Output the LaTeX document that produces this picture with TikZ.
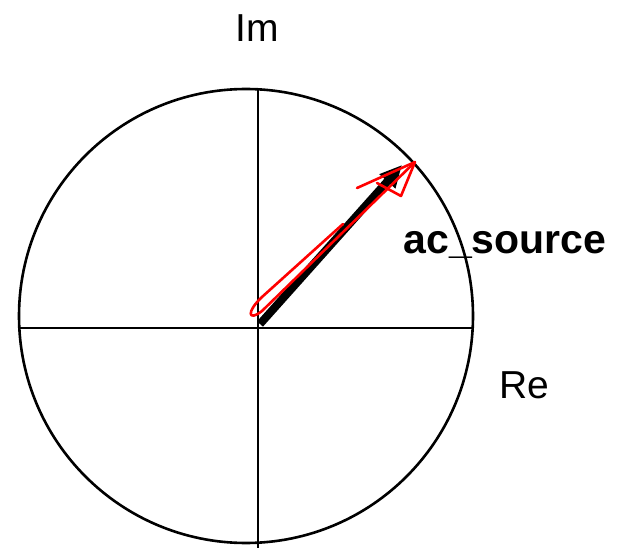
\documentclass[tikz,border=0pt]{standalone}
\usepackage{fontspec}
\setmainfont{Liberation Sans}
\usetikzlibrary{arrows.meta,positioning}

\begin{document}
\begin{tikzpicture}[
        x=1pt, y=-1pt,
        axis/.style={draw, line width=2.6pt},
        label/.style={font=\fontsize{39}{39}\selectfont, inner sep=0pt},
        phasor/.style={draw, line width=8pt, -{Triangle[length=22pt,width=20pt]}},
        sketch/.style={draw, red, line width=2.6pt, line join=round, line cap=round}
    ]
    \useasboundingbox (0,0) rectangle (619,548);
    \coordinate (origin) at (258,328);
    \coordinate (tip) at (402,165);
    % unit circle and axes
    \draw [axis] (246,316) circle (227);
    \draw [axis] (19,328) -- (472,328);
    \draw [axis] (258,88) -- (258,548);
    \node [label] (im) at (257,28) {Im};
    \node [label] (re) at (524,385) {Re};
    \node [label, anchor=base, font=\fontsize{41}{41}\selectfont\bfseries] (src) at (505,254) {ac\_source};
    % phasor
    \path [phasor] ([shift={(2,-4)}]origin) -- (tip);
    % red hand-drawn arrow
    \path [sketch] (343,224) -- (262,297) .. controls (246,312) and (248,322) .. (262,311) -- (415,162);
    \path [sketch] (357,188) -- (415,162) -- (401,196) -- (377,183);
\end{tikzpicture}
\end{document}
